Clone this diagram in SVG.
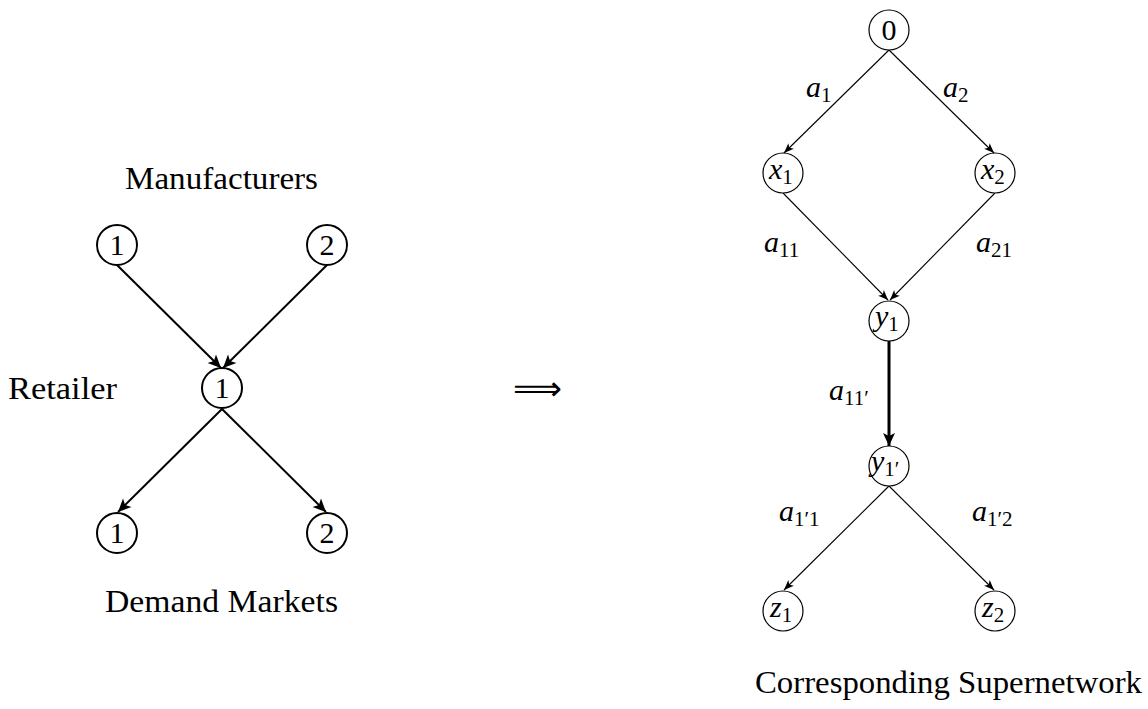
<svg xmlns="http://www.w3.org/2000/svg" width="1148" height="709" viewBox="0 0 1148 709">
<style>
text{font-family:"Liberation Serif","DejaVu Serif",serif;fill:#000}
.lbl{font-size:32px}
.num{font-size:30px;text-anchor:middle}
.mi{font-style:italic;font-size:30px}
.sub{font-style:normal;font-size:21px}
.cL{fill:#fff;stroke:#000;stroke-width:2}
.cR{fill:#fff;stroke:#000;stroke-width:1.2}
.eL{stroke:#000;stroke-width:2;fill:none;marker-end:url(#ahL)}
.eR{stroke:#000;stroke-width:1.1;fill:none;marker-end:url(#ahR)}
.eT{stroke:#000;stroke-width:3;fill:none;marker-end:url(#ahL)}
</style>
<defs>
<marker id="ahL" markerUnits="userSpaceOnUse" markerWidth="16" markerHeight="14" viewBox="-14 -7 16 14" refX="0" refY="0" orient="auto">
<path d="M0,0 L-13,-6 L-10,0 L-13,6 z" fill="#000"/>
</marker>
<marker id="ahR" markerUnits="userSpaceOnUse" markerWidth="12" markerHeight="10" viewBox="-11 -5 12 10" refX="0" refY="0" orient="auto">
<path d="M0,0 L-10,-4 L-7.5,0 L-10,4 z" fill="#000"/>
</marker>
</defs>
<g id="connectors">
<line class="eL" x1="117" y1="265" x2="221" y2="368"/>
<line class="eL" x1="327" y1="265" x2="223" y2="368"/>
<line class="eL" x1="222" y1="409" x2="118" y2="512"/>
<line class="eL" x1="222" y1="409" x2="326" y2="512"/>
<line class="eR" x1="889" y1="50" x2="784" y2="153"/>
<line class="eR" x1="889" y1="50" x2="994" y2="153"/>
<line class="eR" x1="783" y1="193" x2="888" y2="300"/>
<line class="eR" x1="995" y1="193" x2="890" y2="300"/>
<line class="eT" x1="889" y1="341" x2="889" y2="446"/>
<line class="eR" x1="889" y1="486" x2="784" y2="590"/>
<line class="eR" x1="889" y1="486" x2="994" y2="590"/>
</g>
<g id="edge-labels">
<text class="mi" x="806" y="97">a<tspan class="sub" dy="5">1</tspan></text>
<text class="mi" x="943" y="97">a<tspan class="sub" dy="5">2</tspan></text>
<text class="mi" x="764" y="252">a<tspan class="sub" dy="5">11</tspan></text>
<text class="mi" x="976" y="252">a<tspan class="sub" dy="5">21</tspan></text>
<text class="mi" x="829" y="400">a<tspan class="sub" dy="5">11′</tspan></text>
<text class="mi" x="779" y="521">a<tspan class="sub" dy="5">1′1</tspan></text>
<text class="mi" x="972" y="521">a<tspan class="sub" dy="5">1′2</tspan></text>
</g>
<g id="m1"><circle class="cL" cx="117" cy="245" r="20"/><text class="num" x="117" y="255">1</text></g>
<g id="m2"><circle class="cL" cx="327" cy="245" r="20"/><text class="num" x="327" y="255">2</text></g>
<g id="r1"><circle class="cL" cx="222" cy="388" r="20"/><text class="num" x="222" y="398">1</text></g>
<g id="d1"><circle class="cL" cx="117" cy="533" r="20"/><text class="num" x="117" y="543">1</text></g>
<g id="d2"><circle class="cL" cx="327" cy="533" r="20"/><text class="num" x="327" y="543">2</text></g>
<g id="n0"><circle class="cR" cx="889" cy="30" r="20"/><text class="num" x="889" y="40">0</text></g>
<g id="x1"><circle class="cR" cx="783" cy="173" r="20"/><text class="mi" x="769" y="179">x<tspan class="sub" dy="5">1</tspan></text></g>
<g id="x2"><circle class="cR" cx="995" cy="173" r="20"/><text class="mi" x="981" y="179">x<tspan class="sub" dy="5">2</tspan></text></g>
<g id="y1"><circle class="cR" cx="889" cy="321" r="20"/><text class="mi" x="875" y="326">y<tspan class="sub" dy="5">1</tspan></text></g>
<g id="y1p"><circle class="cR" cx="889" cy="466" r="20"/><text class="mi" x="871" y="471">y<tspan class="sub" dy="5">1′</tspan></text></g>
<g id="z1"><circle class="cR" cx="783" cy="611" r="20"/><text class="mi" x="770" y="617">z<tspan class="sub" dy="5">1</tspan></text></g>
<g id="z2"><circle class="cR" cx="995" cy="611" r="20"/><text class="mi" x="982" y="617">z<tspan class="sub" dy="5">2</tspan></text></g>
<g id="labels">
<text class="lbl" x="125" y="189" textLength="193" lengthAdjust="spacingAndGlyphs">Manufacturers</text>
<text class="lbl" x="8" y="399" textLength="109" lengthAdjust="spacingAndGlyphs">Retailer</text>
<text class="lbl" x="105" y="612" textLength="233" lengthAdjust="spacingAndGlyphs">Demand Markets</text>
<text class="lbl" x="755" y="693" textLength="387" lengthAdjust="spacingAndGlyphs">Corresponding Supernetwork</text>
<text x="513" y="400" style="font-family:'DejaVu Sans',sans-serif;font-size:34px" textLength="49" lengthAdjust="spacingAndGlyphs">⟹</text>
</g>
</svg>
